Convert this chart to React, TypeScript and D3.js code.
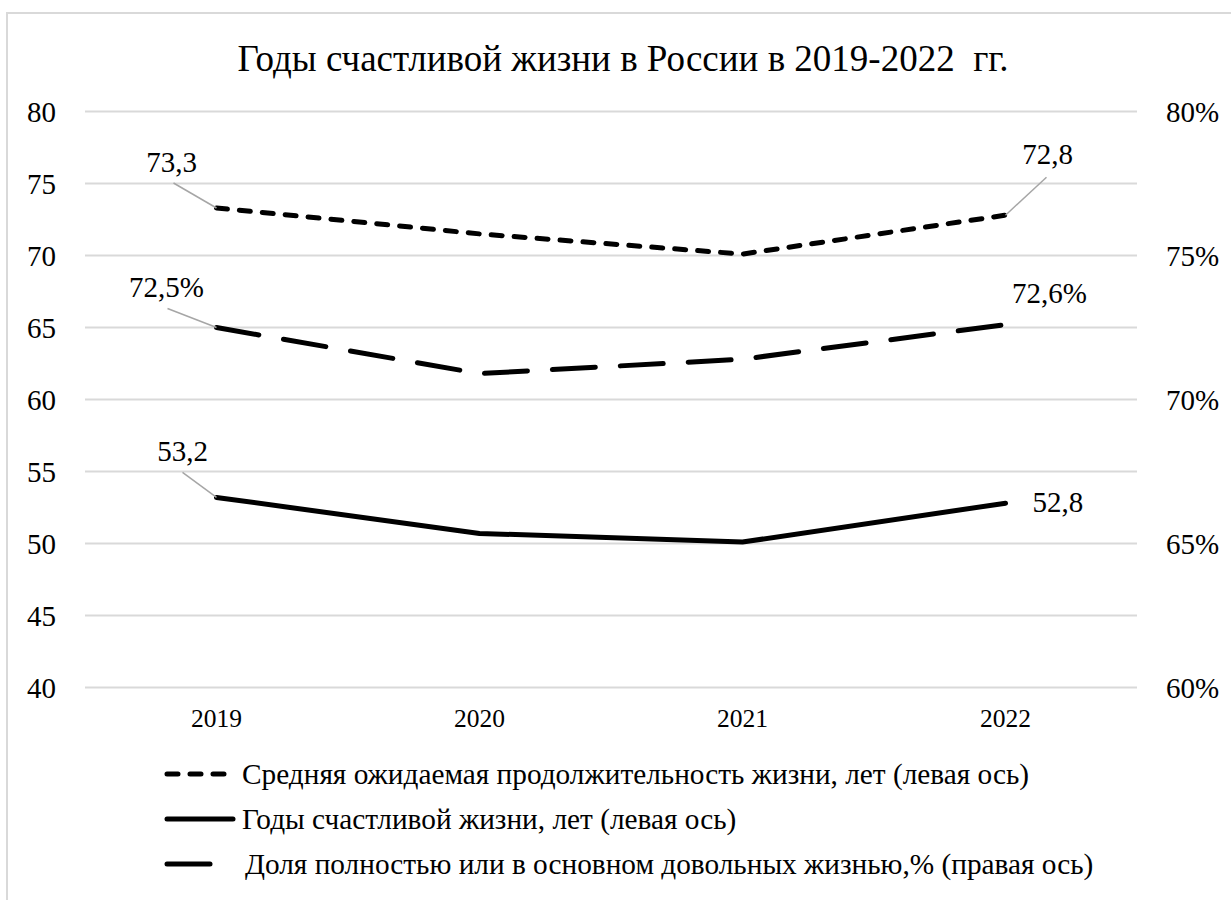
import React from 'react';
import * as d3 from 'd3';

const years = ['2019', '2020', '2021', '2022'];
const lifeExpectancy = [73.3, 71.5, 70.1, 72.8];
const happyYears = [53.2, 50.7, 50.1, 52.8];
const satisfiedShare = [0.725, 0.709, 0.714, 0.726];
const leftTicks = [40, 45, 50, 55, 60, 65, 70, 75, 80];
const rightTicks = [0.6, 0.65, 0.7, 0.75, 0.8];

const title = 'Годы счастливой жизни в России в 2019-2022  гг.';
const legendNames = [
  'Средняя ожидаемая продолжительность жизни, лет (левая ось)',
  'Годы счастливой жизни, лет (левая ось)',
  'Доля полностью или в основном довольных жизнью,% (правая ось)',
];

const ru = d3.formatLocale({ decimal: ',', thousands: ' ', grouping: [3], currency: ['', ' ₽'] });
const fmt1 = ru.format('.1f');
const fmtPct1 = ru.format('.1%');
const fmtPct0 = ru.format('.0%');

const serif = { fontFamily: '"Liberation Serif"' };

const App = () => {
  const width = 1231;
  const height = 900;
  const plot = { left: 85, right: 1137, top: 111.5, bottom: 687.5 };

  const x = d3.scaleBand<string>().domain(years).range([plot.left, plot.right]);
  const cx = (y: string) => (x(y) as number) + x.bandwidth() / 2;
  const yLeft = d3.scaleLinear().domain([40, 80]).range([plot.bottom, plot.top]);
  const yRight = d3.scaleLinear().domain([0.6, 0.8]).range([plot.bottom, plot.top]);

  const lineLeft = d3.line<number>().x((_, i) => cx(years[i])).y(d => yLeft(d));
  const lineRight = d3.line<number>().x((_, i) => cx(years[i])).y(d => yRight(d));

  // data labels: which point, text offset, leader end (or none)
  const labels = [
    { s: 'life', i: 0, dx: -45, dy: -36, anchor: 'middle', lead: [-43, -25] },
    { s: 'life', i: 3, dx: 42, dy: -51, anchor: 'middle', lead: [41, -38] },
    { s: 'share', i: 0, dx: -50, dy: -31, anchor: 'middle', lead: [-49, -19] },
    { s: 'share', i: 3, dx: 44, dy: -22, anchor: 'middle', lead: null },
    { s: 'happy', i: 0, dx: -34, dy: -36, anchor: 'middle', lead: [-34, -25] },
    { s: 'happy', i: 3, dx: 27, dy: 9, anchor: 'start', lead: null },
  ];

  const pointOf = (s: string, i: number) => {
    if (s === 'life') return { px: cx(years[i]), py: yLeft(lifeExpectancy[i]), t: fmt1(lifeExpectancy[i]) };
    if (s === 'happy') return { px: cx(years[i]), py: yLeft(happyYears[i]), t: fmt1(happyYears[i]) };
    return { px: cx(years[i]), py: yRight(satisfiedShare[i]), t: fmtPct1(satisfiedShare[i]) };
  };

  const legendRows = [
    { y: 774, dash: '11 12', x2: 233, tx: 242 },
    { y: 819, dash: null, x2: 233, tx: 242 },
    { y: 864, dash: '43 25', x2: 213, tx: 245 },
  ];

  return (
    <svg width={width} height={height} style={{ position: 'absolute', left: 0, top: 0, background: '#fff' }}>
      <rect x={7} y={13} width={1300} height={1000} fill="#fff" stroke="#d9d9d9" strokeWidth={2} />

      <text x={623} y={71} textAnchor="middle" fontSize={37} style={serif} xmlSpace="preserve">{title}</text>

      {/* gridlines */}
      {leftTicks.map(t => (
        <line key={t} x1={plot.left} x2={plot.right} y1={yLeft(t)} y2={yLeft(t)} stroke="#d9d9d9" strokeWidth={2} />
      ))}

      {/* left axis labels */}
      {leftTicks.map(t => (
        <text key={t} x={56} y={yLeft(t)} dy="0.35em" textAnchor="end" fontSize={29} style={serif}>{t}</text>
      ))}

      {/* right axis labels */}
      {rightTicks.map(t => (
        <text key={t} x={1166} y={yRight(t)} dy="0.35em" textAnchor="start" fontSize={29} style={serif}>{fmtPct0(t)}</text>
      ))}

      {/* x labels */}
      {years.map(yr => (
        <text key={yr} x={cx(yr)} y={727} textAnchor="middle" fontSize={25.5} style={serif}>{yr}</text>
      ))}

      {/* series */}
      <path d={lineLeft(lifeExpectancy) || ''} fill="none" stroke="#000" strokeWidth={5} strokeDasharray="11 12" strokeLinecap="round" strokeLinejoin="round" />
      <path d={lineLeft(happyYears) || ''} fill="none" stroke="#000" strokeWidth={5} strokeLinecap="round" strokeLinejoin="round" />
      <path d={lineRight(satisfiedShare) || ''} fill="none" stroke="#000" strokeWidth={5} strokeDasharray="43 25" strokeLinecap="round" strokeLinejoin="round" />

      {/* data labels */}
      {labels.map((l, k) => {
        const p = pointOf(l.s, l.i);
        return (
          <g key={k}>
            {l.lead && (
              <line x1={p.px} y1={p.py} x2={p.px + l.lead[0]} y2={p.py + l.lead[1]} stroke="#a6a6a6" strokeWidth={1.5} />
            )}
            <text x={p.px + l.dx} y={p.py + l.dy} textAnchor={l.anchor} fontSize={29} style={serif}>{p.t}</text>
          </g>
        );
      })}

      {/* legend */}
      {legendRows.map((r, k) => (
        <g key={k}>
          <line x1={167} x2={r.x2} y1={r.y} y2={r.y} stroke="#000" strokeWidth={5}
            strokeDasharray={r.dash || undefined} strokeLinecap="round" />
          <text x={r.tx} y={r.y} dy="0.35em" fontSize={29.3} style={serif}>{legendNames[k]}</text>
        </g>
      ))}
    </svg>
  );
};

export default App;
